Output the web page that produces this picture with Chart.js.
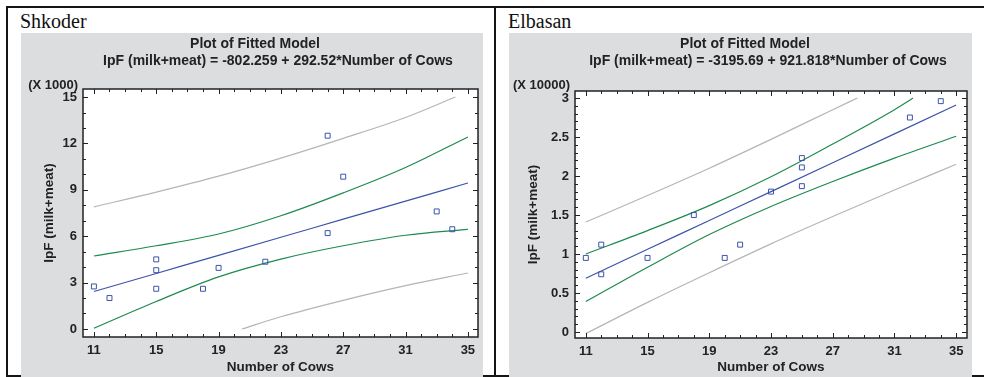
<!DOCTYPE html>
<html>
<head>
<meta charset="utf-8">
<script src="https://cdn.jsdelivr.net/npm/chart.js@4.4.1/dist/chart.umd.min.js"></script>
<style>
  body { margin: 0; background: #fff; width: 984px; height: 377px; overflow: hidden; position: relative;
         font-family: "Liberation Sans", Arial, sans-serif; }
  .rule { position: absolute; background: #151515; }
  .panel { position: absolute; top: 33px; height: 344px; background: #dcdddf; }
  .place { position: absolute; font-family: "Liberation Serif", "Times New Roman", serif; font-size: 20px; color: #111; line-height: 1; }
  .ttl { position: absolute; font-weight: bold; font-size: 14px; color: #222; white-space: nowrap; transform: translate(-50%, -50%); }
  .mult { position: absolute; font-weight: bold; font-size: 13px; color: #222; white-space: nowrap; transform: translate(-100%, -50%); }
  canvas { position: absolute; top: 0; left: 0; }
</style>
</head>
<body>
<div class="rule" style="left:6px;top:6px;width:978px;height:2px"></div>
<div class="rule" style="left:6px;top:6px;width:2px;height:371px"></div>
<div class="rule" style="left:494px;top:6px;width:2px;height:371px"></div>
<div class="rule" style="left:6px;top:375px;width:978px;height:2px"></div>

<div class="place" style="left:20px;top:11px">Shkoder</div>
<div class="place" style="left:508px;top:11px">Elbasan</div>

<div class="panel" style="left:21px;width:462px">
  <canvas id="shkChart" width="462" height="344"></canvas>
  <div class="ttl" style="left:234px;top:10px">Plot of Fitted Model</div>
  <div class="ttl" style="left:257px;top:27px">IpF (milk+meat) = -802.259 + 292.52*Number of Cows</div>
  <div class="mult" style="left:57px;top:51px">(X 1000)</div>
</div>

<div class="panel" style="left:509px;width:463px">
  <canvas id="elbChart" width="463" height="344"></canvas>
  <div class="ttl" style="left:236px;top:10px">Plot of Fitted Model</div>
  <div class="ttl" style="left:259px;top:27px">IpF (milk+meat) = -3195.69 + 921.818*Number of Cows</div>
  <div class="mult" style="left:61px;top:51px">(X 10000)</div>
</div>

<script>
// Shkoder (y in thousands)
const shkCows = [11, 12, 15, 15, 15, 18, 19, 22, 26, 26, 27, 33, 34];
const shkIpf = [2.75, 2.0, 4.5, 3.8, 2.6, 2.6, 3.95, 4.35, 12.5, 6.2, 9.85, 7.6, 6.45];
const shkLineX = [11, 15, 19, 23, 27, 31, 35];
const shkFit = [2.42, 3.59, 4.76, 5.93, 7.1, 8.27, 9.44];
const shkConfHi = [4.72, 5.38, 6.14, 7.32, 8.8, 10.44, 12.42];
const shkConfLo = [0.05, 1.78, 3.37, 4.52, 5.38, 6.06, 6.44];
const shkPredHiX = [11, 15, 19, 23, 27, 31, 34.2];
const shkPredHi = [7.9, 8.85, 9.88, 11.05, 12.33, 13.68, 15.0];
const shkPredLoX = [20.5, 23, 27, 31, 35];
const shkPredLo = [0, 0.79, 1.85, 2.8, 3.62];
const shkXTicks = [11, 15, 19, 23, 27, 31, 35];
const shkYTicks = [0, 3, 6, 9, 12, 15];

// Elbasan (y in ten thousands)
const elbCows = [11, 12, 12, 15, 18, 20, 21, 23, 25, 25, 25, 32, 34];
const elbIpf = [0.95, 1.12, 0.74, 0.95, 1.5, 0.95, 1.12, 1.8, 2.23, 2.11, 1.87, 2.75, 2.96];
const elbLineX = [11, 15, 19, 23, 27, 31, 35];
const elbFit = [0.69, 1.06, 1.43, 1.8, 2.17, 2.54, 2.91];
const elbConfHiX = [11, 15, 19, 23, 27, 31, 32.2];
const elbConfHi = [1.0, 1.3, 1.62, 1.99, 2.41, 2.85, 3.0];
const elbConfLo = [0.39, 0.83, 1.25, 1.61, 1.93, 2.23, 2.51];
const elbPredHiX = [11, 15, 19, 23, 27, 28.6];
const elbPredHi = [1.41, 1.75, 2.1, 2.47, 2.85, 3.0];
const elbPredLo = [-0.02, 0.38, 0.76, 1.13, 1.48, 1.82, 2.15];
const elbXTicks = [11, 15, 19, 23, 27, 31, 35];
const elbYTicks = [0, 0.5, 1, 1.5, 2, 2.5, 3];

const BLUE = '#3c54a8';
const GREEN = '#1d8a4e';
const GREY = '#b5b5b5';
const INK = '#222';
const FONT = { family: "'Liberation Sans', Arial, sans-serif", size: 13, weight: 'bold' };
const TITLE_FONT = { family: "'Liberation Sans', Arial, sans-serif", size: 13.5, weight: 'bold' };

const pairs = (xs, ys) => xs.map((x, i) => ({ x: x, y: ys[i] }));

// white plot area, frame and inward ticks on all four sides
const frameTicks = {
  id: 'frameTicks',
  beforeDraw(chart) {
    const { ctx, chartArea: a } = chart;
    ctx.save();
    ctx.fillStyle = '#fff';
    ctx.fillRect(a.left, a.top, a.right - a.left, a.bottom - a.top);
    ctx.restore();
  },
  afterDraw(chart, args, o) {
    const { ctx, chartArea: a, scales: { x, y } } = chart;
    const isMajor = (list, v) => list.some(t => Math.abs(t - v) < 1e-6);
    ctx.save();
    ctx.strokeStyle = INK;
    ctx.lineWidth = 1;
    ctx.beginPath();
    const nx = Math.round((o.xTicks[o.xTicks.length - 1] - o.xTicks[0]) / o.xMinor);
    for (let i = 0; i <= nx; i++) {
      const v = o.xTicks[0] + i * o.xMinor;
      const px = Math.round(x.getPixelForValue(v)) + 0.5;
      const len = isMajor(o.xTicks, v) ? 5 : 3;
      ctx.moveTo(px, a.bottom); ctx.lineTo(px, a.bottom - len);
      ctx.moveTo(px, a.top); ctx.lineTo(px, a.top + len);
    }
    const ny = Math.round((o.yTicks[o.yTicks.length - 1] - o.yTicks[0]) / o.yMinor);
    for (let i = 0; i <= ny; i++) {
      const v = o.yTicks[0] + i * o.yMinor;
      const py = Math.round(y.getPixelForValue(v)) + 0.5;
      const len = isMajor(o.yTicks, v) ? 5 : 3;
      ctx.moveTo(a.left, py); ctx.lineTo(a.left + len, py);
      ctx.moveTo(a.right, py); ctx.lineTo(a.right - len, py);
    }
    ctx.stroke();
    ctx.lineWidth = 1.5;
    ctx.strokeRect(a.left, a.top, a.right - a.left, a.bottom - a.top);
    ctx.restore();
  }
};

function line(data, color) {
  return { data: data, showLine: true, borderColor: color, borderWidth: 1.2, pointRadius: 0,
           cubicInterpolationMode: 'monotone', fill: false };
}

function makeChart(id, d) {
  return new Chart(document.getElementById(id), {
    type: 'scatter',
    data: {
      datasets: [
        { data: pairs(d.cows, d.ipf), pointStyle: 'rect', pointRadius: 3.5, borderWidth: 1,
          borderColor: BLUE, backgroundColor: 'rgba(0,0,0,0)' },
        line(d.fit, BLUE),
        line(d.confHi, GREEN),
        line(d.confLo, GREEN),
        line(d.predHi, GREY),
        line(d.predLo, GREY)
      ]
    },
    options: {
      responsive: false,
      animation: false,
      events: [],
      layout: { padding: { top: d.top, right: d.right, left: 0, bottom: 0 } },
      plugins: {
        legend: { display: false },
        tooltip: { enabled: false },
        frameTicks: { xTicks: d.xTicks, yTicks: d.yTicks, xMinor: 1, yMinor: d.yMinor }
      },
      scales: {
        x: {
          type: 'linear', min: d.xMin, max: d.xMax,
          afterBuildTicks: s => { s.ticks = d.xTicks.map(v => ({ value: v })); },
          afterFit: s => { s.height = d.xh; },
          grid: { display: false, drawTicks: false },
          border: { display: false },
          ticks: { color: INK, font: FONT, padding: 6, maxRotation: 0, autoSkip: false,
                   callback: v => String(v) },
          title: { display: true, text: 'Number of Cows', color: INK, font: TITLE_FONT, padding: { top: 0, bottom: 2 } }
        },
        y: {
          type: 'linear', min: d.yMin, max: d.yMax,
          afterBuildTicks: s => { s.ticks = d.yTicks.map(v => ({ value: v })); },
          afterFit: s => { s.width = d.yw; },
          grid: { display: false, drawTicks: false },
          border: { display: false },
          ticks: { color: INK, font: FONT, padding: 6, autoSkip: false,
                   callback: v => String(+v.toFixed(2)) },
          title: { display: true, text: 'IpF (milk+meat)', color: INK, font: TITLE_FONT, padding: { top: d.titlePad, bottom: 0 } }
        }
      }
    },
    plugins: [frameTicks]
  });
}

makeChart('shkChart', {
  cows: shkCows, ipf: shkIpf,
  fit: pairs(shkLineX, shkFit),
  confHi: pairs(shkLineX, shkConfHi),
  confLo: pairs(shkLineX, shkConfLo),
  predHi: pairs(shkPredHiX, shkPredHi),
  predLo: pairs(shkPredLoX, shkPredLo),
  xTicks: shkXTicks, yTicks: shkYTicks, yMinor: 1,
  xMin: 10.3, xMax: 35.65, yMin: -0.52, yMax: 15.52,
  top: 56, right: 5, xh: 40, yw: 62, titlePad: 20
});

makeChart('elbChart', {
  cows: elbCows, ipf: elbIpf,
  fit: pairs(elbLineX, elbFit),
  confHi: pairs(elbConfHiX, elbConfHi),
  confLo: pairs(elbLineX, elbConfLo),
  predHi: pairs(elbPredHiX, elbPredHi),
  predLo: pairs(elbLineX, elbPredLo),
  xTicks: elbXTicks, yTicks: elbYTicks, yMinor: 0.1,
  xMin: 10.3, xMax: 35.7, yMin: -0.077, yMax: 3.09,
  top: 58, right: 2, xh: 39, yw: 66, titlePad: 16
});
</script>
</body>
</html>
